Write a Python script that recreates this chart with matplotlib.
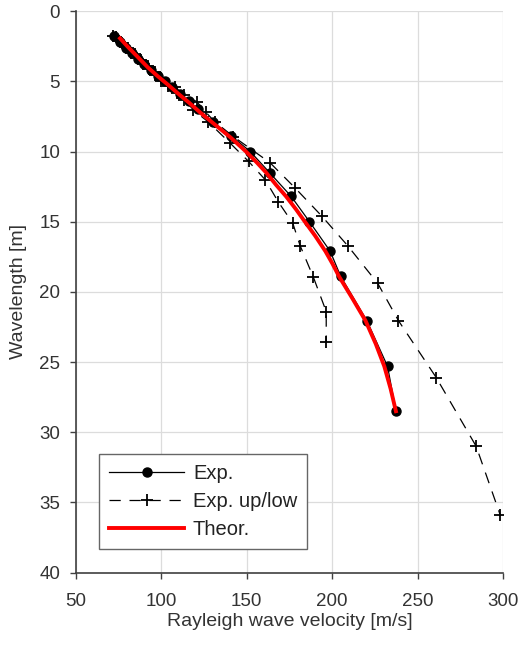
import matplotlib
matplotlib.use("Agg")
import matplotlib.pyplot as plt

plt.rcParams['font.family'] = ['Liberation Sans', 'DejaVu Sans']

# Exp. (mean dispersion curve)
v_exp = [72.5, 76, 79.5, 83, 86.5, 90, 94, 98, 102, 106, 111, 116, 121.5, 130,
         141, 152, 163.3, 176, 186.7, 198.8, 205, 220.3, 232.4, 237.3]
l_exp = [1.8, 2.2, 2.6, 3.0, 3.4, 3.8, 4.2, 4.6, 5.0, 5.4, 5.9, 6.4, 7.0, 7.9,
         8.9, 10.0, 11.5, 13.2, 15.0, 17.1, 18.9, 22.05, 25.3, 28.5]

# Exp. upper bound
v_up = [73.5, 77, 80.5, 84.5, 88, 92, 96, 100, 104, 108, 113, 120.7, 126, 131.4,
        142.2, 163.6, 178.3, 193.9, 209, 226.7, 238.8, 260.9, 284.3, 298.4]
l_up = [1.85, 2.25, 2.65, 3.05, 3.5, 3.9, 4.35, 4.8, 5.2, 5.4, 5.95, 6.45, 7.2, 7.9,
        8.94, 10.8, 12.6, 14.6, 16.7, 19.4, 22.05, 26.1, 31.0, 35.9]

# Exp. lower bound
v_low = [71.5, 75, 78.5, 82, 85.5, 89, 92.5, 96, 100, 104, 109, 113.5, 118.7, 127.5,
         140.2, 151, 160.7, 168.5, 176.9, 181.2, 189, 196.5, 196.5]
l_low = [1.75, 2.15, 2.55, 2.95, 3.35, 3.75, 4.15, 4.55, 4.95, 5.35, 5.85, 6.3, 7.04, 7.9,
         9.4, 10.7, 12.0, 13.6, 15.1, 16.7, 18.96, 21.4, 23.6]

# Theoretical curve
v_th = [75.8, 80, 84, 88, 92, 97.5, 104, 111, 116, 122.5, 130.5, 140.5, 149.5, 156,
        161.3, 167.3, 173, 178.7, 184, 190, 196, 200.2, 204, 212, 219.5, 225.5,
        230.5, 234.2, 237.3]
l_th = [1.94, 2.5, 3.0, 3.5, 4.0, 4.6, 5.26, 6.0, 6.5, 7.2, 8.0, 9.0, 10.0, 10.8,
        11.5, 12.4, 13.2, 14.1, 15.0, 16.0, 17.1, 18.0, 18.9, 20.5, 22.05, 23.7,
        25.3, 26.9, 28.5]

fig = plt.figure(figsize=(5.22, 6.46), dpi=100)
ax = fig.add_axes([0.1456, 0.1135, 0.818, 0.8693])

ax.plot(v_exp, l_exp, color='black', lw=0.9, marker='o', ms=6.5, label='Exp.', zorder=3)
ax.plot(v_up, l_up, color='black', lw=0.9, dashes=(9, 7), marker='+', ms=8, mew=1.3,
        label='Exp. up/low', zorder=3)
ax.plot(v_low, l_low, color='black', lw=0.9, dashes=(9, 7), marker='+', ms=8, mew=1.3,
        zorder=3)
ax.plot(v_th, l_th, color='#ff0000', lw=2.8, label='Theor.', zorder=4)

ax.set_xlim(50, 300)
ax.set_ylim(40, 0)
ax.set_xticks(range(50, 301, 50))
ax.set_yticks(range(0, 41, 5))
ax.grid(True, color='#dcdcdc', lw=0.9)
ax.set_axisbelow(True)
for s in ['top', 'right']:
    ax.spines[s].set_visible(False)
for s in ['left', 'bottom']:
    ax.spines[s].set_color('#404040')
    ax.spines[s].set_linewidth(1.2)
ax.tick_params(direction='out', length=4.5, width=1, color='#404040',
               labelsize=13.5, labelcolor='#333333')
ax.tick_params(axis='x', pad=10)
ax.tick_params(axis='y', pad=7)
ax.set_xlabel('Rayleigh wave velocity [m/s]', fontsize=14, color='#333333', labelpad=2)
ax.set_ylabel('Wavelength [m]', fontsize=14, color='#333333', labelpad=9)

leg = ax.legend(loc='lower left', bbox_to_anchor=(0.0546, 0.0417), borderaxespad=0,
                fancybox=False, framealpha=1, edgecolor='#666666', fontsize=14.5,
                handlelength=3.7, handletextpad=0.45, numpoints=1, labelspacing=0.45,
                borderpad=0.5)
leg.get_frame().set_linewidth(1.0)
for t in leg.get_texts():
    t.set_color('#222222')

fig.savefig('out.png', dpi=100)
